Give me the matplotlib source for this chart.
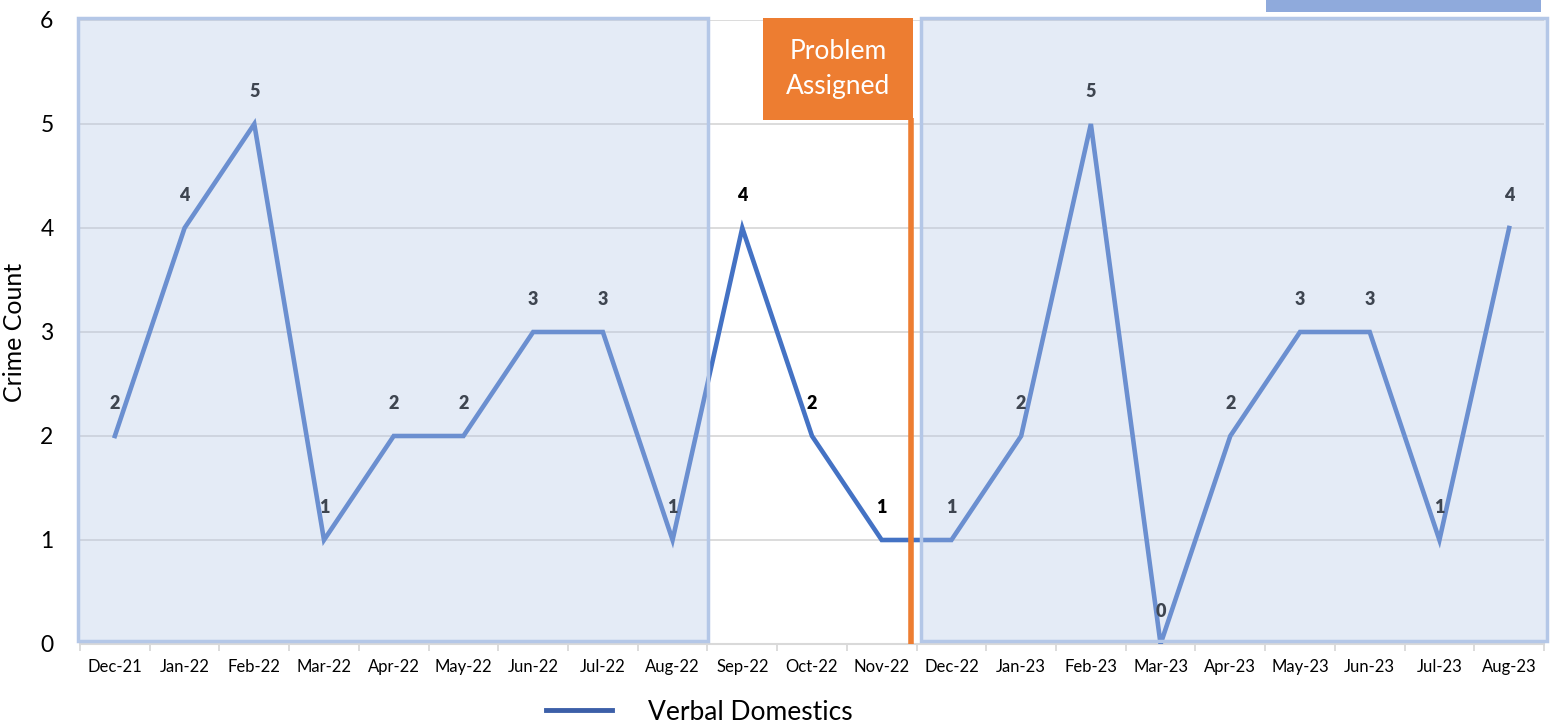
import matplotlib
matplotlib.use("Agg")
import matplotlib.pyplot as plt
from matplotlib.patches import Rectangle
from matplotlib.lines import Line2D

plt.rcParams['font.family'] = ['Lato', 'DejaVu Sans']

months = ["Dec-21", "Jan-22", "Feb-22", "Mar-22", "Apr-22", "May-22", "Jun-22", "Jul-22",
          "Aug-22", "Sep-22", "Oct-22", "Nov-22", "Dec-22", "Jan-23", "Feb-23", "Mar-23",
          "Apr-23", "May-23", "Jun-23", "Jul-23", "Aug-23"]
counts = [2, 4, 5, 1, 2, 2, 3, 3, 1, 4, 2, 1, 1, 2, 5, 0, 2, 3, 3, 1, 4]
series_name = "Verbal Domestics"
y_ticks = [0, 1, 2, 3, 4, 5, 6]

W, H = 1557, 727
fig = plt.figure(figsize=(W / 100, H / 100), dpi=100)
ax = fig.add_axes([80 / W, (H - 644) / H, (1544 - 80) / W, (644 - 20) / H])

x = list(range(len(months)))
ax.set_xlim(-0.5, len(months) - 0.5)
ax.set_ylim(0, 6)

line_color = '#4472C4'
ax.plot(x, counts, color=line_color, lw=3.3, solid_joinstyle='miter', zorder=3)
for xi, v in zip(x, counts):
    ax.annotate(str(v), (xi, v), xytext=(0, 23.5), textcoords='offset points',
                ha='center', va='center', fontsize=13, fontweight='heavy',
                color='black', zorder=4)

# gridlines
ax.set_yticks(y_ticks)
ax.yaxis.grid(True, color='#D9D9D9', lw=1.3, zorder=1)
ax.set_axisbelow(True)
ax.tick_params(axis='y', length=0, pad=19, labelsize=16.5)

# x ticks: labels at centers, tick marks at boundaries
ax.set_xticks(x)
ax.set_xticklabels(months, fontsize=12)
ax.set_xticks([i - 0.5 for i in range(len(months) + 1)], minor=True)
ax.tick_params(axis='x', which='major', length=0, pad=11)
ax.tick_params(axis='x', which='minor', length=5, width=1.3, color='#D9D9D9')

for s in ['top', 'right', 'left']:
    ax.spines[s].set_visible(False)
ax.spines['bottom'].set_color('#D9D9D9')
ax.spines['bottom'].set_linewidth(1.5)
ax.set_ylabel("Crime Count", fontsize=18, labelpad=10)

# shaded overlay boxes (before / after)
for (x0, x1) in [(-0.53, 8.51), (11.56, 20.55)]:
    r = Rectangle((x0, 0.03), x1 - x0, 5.99, facecolor='#B4C7E7', alpha=0.35,
                  edgecolor='none', zorder=5, clip_on=False)
    ax.add_patch(r)
    b = Rectangle((x0, 0.03), x1 - x0, 5.99, facecolor='none', edgecolor='#B4C7E7',
                  lw=2.5, zorder=5, clip_on=False)
    ax.add_patch(b)

# Problem assigned marker
orange = '#ED7D31'
ax.plot([11.42, 11.42], [0, 5.06], color=orange, lw=4, zorder=6, solid_capstyle='butt')
ax.add_patch(Rectangle((9.30, 5.04), 11.45 - 9.30, 6.02 - 5.04, facecolor=orange,
                       edgecolor='none', zorder=6, clip_on=False))
ax.text((9.30 + 11.45) / 2, (5.04 + 6.02) / 2, "Problem\nAssigned", ha='center', va='center',
        color='white', fontsize=19, linespacing=1.5, zorder=7)

# top-right blue bar
fig.patches.append(Rectangle((1266 / W, 1 - 12 / H), (1541 - 1266) / W, 12 / H,
                             transform=fig.transFigure, facecolor='#8FAADC',
                             edgecolor='none'))

# legend
fig.lines.append(Line2D([546 / W, 612 / W], [1 - 710 / H, 1 - 710 / H],
                        transform=fig.transFigure, color='#3C5FA8', lw=3.5))
fig.text(648 / W, 1 - 712 / H, series_name, ha='left', va='center', fontsize=19)

fig.savefig("out.png", dpi=100)
